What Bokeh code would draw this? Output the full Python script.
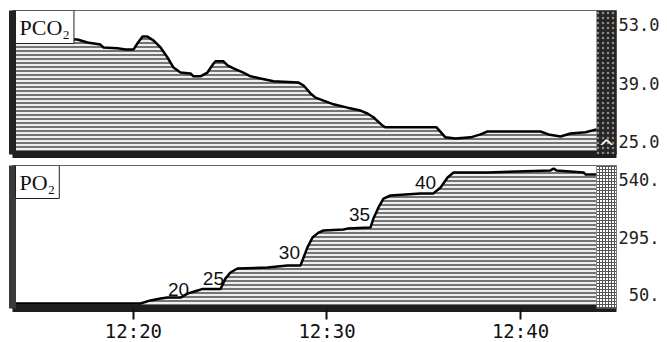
from bokeh.plotting import figure
from bokeh.layouts import column
from bokeh.models import Range1d, LinearAxis, FixedTicker, Label, BoxAnnotation
from bokeh.core.properties import value
from bokeh.embed import file_html
from bokeh.resources import INLINE

# ---- data (minutes after 12:00) ----
pco2_time = [13.75, 17.11, 17.62, 18.29, 18.45, 19.17, 19.59, 20.00, 20.21, 20.47, 20.72, 21.03,
             21.40, 21.76, 22.07, 22.43, 22.95, 23.10, 23.46, 23.82, 24.13, 24.24, 24.65, 24.86,
             25.17, 25.68, 26.05, 26.56, 27.24, 28.53, 28.79, 29.15, 29.41, 29.82, 30.34, 31.06,
             31.73, 32.09, 32.40, 32.87, 33.02, 35.66, 36.12, 36.64, 37.42, 37.93, 38.29, 41.03,
             41.45, 42.07, 42.58, 43.36, 43.93]
pco2_val = [49.7, 49.4, 48.7, 48.2, 47.5, 47.3, 47.0, 47.0, 48.5, 50.1, 50.1, 49.2,
            47.5, 45.1, 42.7, 41.5, 41.3, 40.6, 40.6, 41.5, 43.6, 44.2, 44.2, 43.2,
            42.5, 41.5, 40.6, 40.1, 39.4, 39.1, 38.4, 36.5, 35.5, 34.8, 33.9, 33.1,
            32.4, 31.7, 30.8, 28.8, 28.4, 28.4, 26.0, 25.7, 26.0, 26.7, 27.4, 27.4,
            26.7, 26.2, 26.9, 27.2, 27.9]

po2_time = [13.75, 20.36, 20.88, 21.40, 21.76, 22.43, 22.79, 23.31, 23.57, 24.50, 24.75, 25.01,
            25.37, 26.93, 27.96, 28.63, 28.79, 28.99, 29.25, 29.56, 29.82, 30.85, 31.06, 32.25,
            32.40, 32.66, 32.92, 33.28, 34.83, 35.50, 35.87, 36.23, 36.54, 38.29, 41.55, 41.71,
            41.86, 43.26, 43.36, 43.93]
po2_val = [16, 16, 29, 37, 41, 41, 58, 71, 78, 78, 122, 148,
           165, 169, 178, 178, 212, 255, 297, 318, 327, 331, 335, 340,
           378, 425, 463, 476, 485, 485, 510, 553, 574, 574, 583, 591,
           583, 574, 566, 566]

fio2_time = [22.33, 24.13, 28.06, 31.68, 35.09]
fio2_pos = [76, 122, 233, 395, 531]
fio2_text = ["20", "25", "30", "35", "40"]

time_ticks = [20, 30, 40]
time_tick_labels = ["12:20", "12:30", "12:40"]
pco2_ticks = [25, 39, 53]
pco2_tick_labels = ["25.0", "39.0", "53.0"]
po2_ticks = [50, 295, 540]
po2_tick_labels = ["\u00a050.", "295.", "540."]

X_START, X_END = 13.75, 44.96
STRIP_END = 47.3
PCO2_RANGE = (21.89, 56.35)
PO2_RANGE = (-5.4, 603.9)

MONO = "DejaVu Sans Mono"


def make_panel(frame_h, yr, top, bottom):
    p = figure(frame_width=604, frame_height=frame_h, x_range=Range1d(X_START, X_END),
               y_range=Range1d(*yr), output_backend="svg", toolbar_location=None,
               min_border_left=12, min_border_right=51, min_border_top=top,
               min_border_bottom=bottom)
    p.grid.visible = False
    p.outline_line_color = "#666666"
    p.outline_line_width = 1
    p.background_fill_color = "white"
    p.border_fill_color = "white"
    ya = p.yaxis[0]
    ya.ticker = FixedTicker(ticks=[])
    ya.axis_line_width = 7
    ya.axis_line_color = "#222222"
    ya.major_tick_line_color = None
    ya.minor_tick_line_color = None
    ya.major_tick_out = 0
    ya.minor_tick_out = 0
    ya.major_label_standoff = 0
    xa = p.xaxis[0]
    xa.bounds = (X_START, STRIP_END)
    xa.axis_line_width = 7
    xa.axis_line_color = "#1e1e1e"
    xa.minor_tick_line_color = None
    xa.minor_tick_out = 0
    return p


def right_axis(p, ticks, labels):
    ax = LinearAxis(ticker=FixedTicker(ticks=ticks),
                    major_label_overrides=dict(zip(ticks, labels)))
    ax.axis_line_color = None
    ax.major_tick_line_color = None
    ax.minor_tick_line_color = None
    ax.major_tick_out = 0
    ax.minor_tick_out = 0
    ax.major_label_standoff = 2
    ax.major_label_text_font = MONO
    ax.major_label_text_font_size = "17px"
    ax.major_label_text_color = "#222222"
    p.add_layout(ax, "right")


def area(p, t, v, base):
    p.varea(x=t, y1=base, y2=v, fill_color="#eeeeee",
            hatch_pattern="horizontal_line", hatch_scale=4, hatch_weight=2,
            hatch_color="#747474")
    p.line(t, v, line_color="black", line_width=2.5)


def panel_label(p, yr, text):
    p.add_layout(Label(x=X_START, y=yr[1], text=text, anchor="top_left",
                       text_font="Liberation Serif", text_font_size="22px",
                       text_color="#111111", border_line_color="#222222",
                       border_line_width=1, background_fill_color="white",
                       padding=4, x_offset=3))


# ---- PCO2 panel ----
p1 = make_panel(144, PCO2_RANGE, 10, 4)
p1.xaxis.ticker = FixedTicker(ticks=[])
p1.xaxis.major_tick_line_color = None
p1.xaxis.major_tick_out = 0
p1.xaxis.major_label_standoff = 0
area(p1, pco2_time, pco2_val, PCO2_RANGE[0])
p1.add_layout(BoxAnnotation(left=pco2_time[-1], fill_color="#262626", fill_alpha=1,
                            line_color=None, hatch_pattern="dot", hatch_color="#8c8c8c",
                            hatch_scale=5))
p1.add_layout(Label(x=(pco2_time[-1] + X_END) / 2, y=PCO2_RANGE[0], text="^",
                    text_align="center", text_baseline="bottom", y_offset=-4,
                    text_font="DejaVu Sans", text_font_size="20px", text_color="white"))
right_axis(p1, pco2_ticks, pco2_tick_labels)
panel_label(p1, PCO2_RANGE, "PCO\u2082")

# ---- PO2 panel ----
p2 = make_panel(143, PO2_RANGE, 7, 33)
p2.xaxis.ticker = FixedTicker(ticks=time_ticks)
p2.xaxis.major_label_overrides = dict(zip(time_ticks, time_tick_labels))
p2.xaxis.major_tick_out = 11
p2.xaxis.major_tick_in = 0
p2.xaxis.major_tick_line_width = 2
p2.xaxis.major_tick_line_color = "#111111"
p2.xaxis.major_label_standoff = 0
p2.xaxis.major_label_text_font = MONO
p2.xaxis.major_label_text_font_size = "19px"
p2.xaxis.major_label_text_color = "#111111"
p2.yaxis.axis_line_color = "#3a3a3a"
area(p2, po2_time, po2_val, PO2_RANGE[0])
p2.add_layout(BoxAnnotation(left=po2_time[-1], fill_color="white", fill_alpha=1,
                            line_color="#333333", hatch_pattern="cross", hatch_color="#555555",
                            hatch_scale=3, hatch_weight=1))
p2.text(x=fio2_time, y=fio2_pos, text=fio2_text, text_align="center",
        text_baseline="middle", text_font=value("Liberation Sans"),
        text_font_size="19px", text_color="#111111")
right_axis(p2, po2_ticks, po2_tick_labels)
panel_label(p2, PO2_RANGE, "PO\u2082")

layout = column(p1, p2)
open("out.html", "w").write(file_html(layout, INLINE))
